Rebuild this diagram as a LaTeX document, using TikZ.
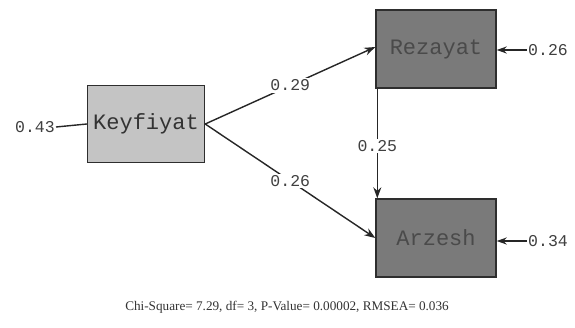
\documentclass[tikz,border=0pt]{standalone}
\usepackage{fontspec}
\setmainfont{Liberation Serif}
\newfontfamily\pathfont{Liberation Mono}
\usetikzlibrary{arrows.meta}
\definecolor{exofill}{HTML}{C4C4C4}
\definecolor{endofill}{HTML}{7A7A7A}
\definecolor{endotext}{HTML}{4A4A4A}
\definecolor{edgecol}{HTML}{2E2E2E}
\tikzset{
  exobox/.style={draw=edgecol, line width=1.4pt, fill=exofill, minimum width=117pt,
    minimum height=77pt, inner sep=0pt, font=\pathfont\fontsize{22}{22}\selectfont, text=black!80},
  endobox/.style={draw=edgecol, line width=1.4pt, fill=endofill, minimum width=120pt,
    minimum height=78pt, inner sep=0pt, font=\pathfont\fontsize{22}{22}\selectfont, text=endotext},
  coef/.style={fill=white, inner sep=1.5pt, font=\pathfont\fontsize{16.5}{16.5}\selectfont, text=black!75},
  errlabel/.style={inner sep=1pt, font=\pathfont\fontsize{16.5}{16.5}\selectfont, text=black!75},
  path/.style={draw=black!85, line width=1.4pt, -{Stealth[length=11pt,width=8pt]}},
  resid/.style={draw=black!85, line width=1.4pt, -{Stealth[length=10pt,width=7pt]}},
}
\begin{document}
\begin{tikzpicture}[x=1pt,y=-1pt]
  \useasboundingbox[fill=white] (0,0) rectangle (575,327);

  % latent variables
  \node[exobox]  (key) at (146,124) {Keyfiyat};
  \node[endobox] (rez) at (436,49)  {Rezayat};
  \node[endobox] (arz) at (436,238) {Arzesh};

  % residual variances
  \node[errlabel] (ekey) at (35,127)  {0.43};
  \node[errlabel] (erez) at (548,50)  {0.26};
  \node[errlabel] (earz) at (548,241) {0.34};

  \coordinate (rezout) at ([xshift=2pt]rez.south west);
  \coordinate (arzin)  at ([xshift=2pt]arz.north west);
  \coordinate (rezin)  at ([yshift=2pt]rez.west);

  % structural paths
  \draw[path] (key.east) -- node[coef, pos=0.5] {0.29} (rezin);
  \draw[path] (key.east) -- node[coef, pos=0.5] {0.26} (arz.west);
  \draw[path] (rezout) -- node[coef, pos=0.52] {0.25} (arzin);

  % error terms
  \draw[draw=black!85, line width=1.4pt] (ekey.east) -- (key.west);
  \draw[resid] (erez.west) -- (rez.east |- erez.west);
  \draw[resid] (earz.west) -- (arz.east |- earz.west);

  % fit statistics
  \node[font=\fontsize{13.2}{14}\selectfont, text=black!80] (fit) at (287,307)
    {Chi-Square= 7.29, df= 3, P-Value= 0.00002, RMSEA= 0.036};
\end{tikzpicture}
\end{document}
